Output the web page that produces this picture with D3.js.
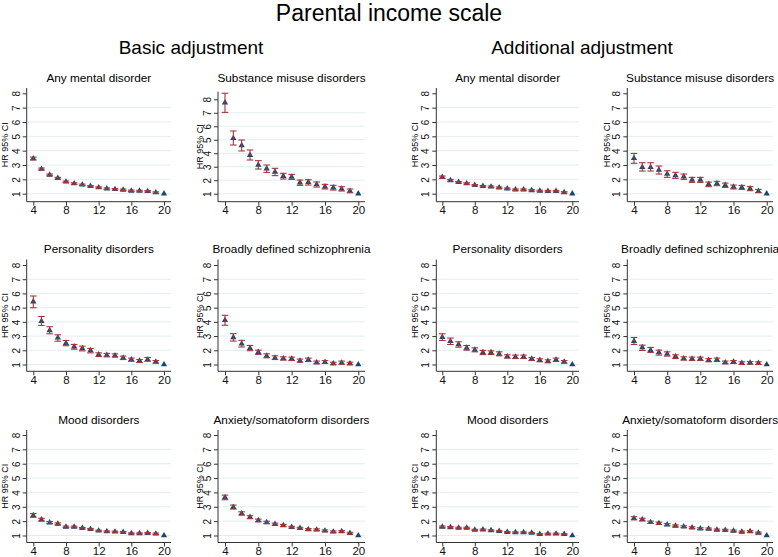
<!DOCTYPE html>
<html>
<head>
<meta charset="utf-8">
<script src="https://cdn.jsdelivr.net/npm/d3@7"></script>
<style>
  body { margin: 0; background: #fff; }
  svg { display: block; font-family: "Liberation Sans", Arial, Helvetica, sans-serif; }
</style>
</head>
<body>
<div id="chart"></div>
<script>
// income scale categories (x) and tick labels
var scaleSteps = [4,5,6,7,8,9,10,11,12,13,14,15,16,17,18,19,20];
var xTicks = [4,8,12,16,20];
var yTicks = [1,2,3,4,5,6,7,8];

// Basic adjustment
var anyBasicHR = [3.45,2.72,2.31,2.08,1.83,1.71,1.62,1.52,1.43,1.35,1.31,1.27,1.20,1.19,1.17,1.08,1];
var anyBasicLo = [3.35,2.65,2.25,2.02,1.78,1.66,1.57,1.47,1.38,1.30,1.26,1.22,1.15,1.14,1.12,1.03];
var anyBasicHi = [3.55,2.79,2.37,2.14,1.88,1.76,1.67,1.57,1.48,1.40,1.36,1.32,1.25,1.24,1.22,1.13];

var subBasicHR = [7.75,5.11,4.58,3.86,3.13,2.86,2.61,2.30,2.24,1.82,1.85,1.68,1.52,1.45,1.36,1.20,1];
var subBasicLo = [7.03,4.61,4.17,3.50,2.83,2.58,2.34,2.09,2.06,1.62,1.64,1.49,1.35,1.27,1.20,1.07];
var subBasicHi = [8.45,5.65,4.98,4.24,3.45,3.13,2.88,2.51,2.43,2.01,2.04,1.87,1.69,1.62,1.52,1.35];

var persBasicHR = [5.42,4.05,3.40,2.88,2.50,2.25,2.13,1.99,1.70,1.66,1.63,1.47,1.35,1.26,1.35,1.19,1];
var persBasicLo = [4.99,3.75,3.16,2.64,2.32,2.08,1.96,1.82,1.56,1.54,1.52,1.35,1.23,1.14,1.23,1.09];
var persBasicHi = [5.82,4.38,3.66,3.09,2.69,2.41,2.29,2.13,1.82,1.78,1.75,1.59,1.45,1.35,1.49,1.28];

var schizBasicHR = [4.11,2.91,2.46,2.15,1.87,1.61,1.47,1.42,1.40,1.26,1.33,1.14,1.16,1.07,1.12,1.07,1];
var schizBasicLo = [3.76,2.65,2.23,1.97,1.71,1.47,1.35,1.31,1.28,1.16,1.21,1.05,1.07,0.98,1.02,0.98];
var schizBasicHi = [4.46,3.17,2.70,2.34,2.01,1.75,1.61,1.54,1.52,1.38,1.45,1.24,1.28,1.16,1.24,1.16];

var moodBasicHR = [2.40,2.10,1.90,1.81,1.60,1.60,1.51,1.44,1.33,1.28,1.26,1.23,1.14,1.14,1.16,1.12,1];
var moodBasicLo = [2.27,2.01,1.83,1.74,1.55,1.55,1.46,1.39,1.29,1.24,1.22,1.18,1.10,1.10,1.11,1.07];
var moodBasicHi = [2.53,2.20,1.97,1.88,1.65,1.65,1.56,1.49,1.37,1.32,1.30,1.28,1.18,1.18,1.21,1.17];

var anxBasicHR = [3.65,2.98,2.53,2.28,2.05,1.91,1.79,1.70,1.58,1.51,1.42,1.40,1.33,1.26,1.28,1.16,1];
var anxBasicLo = [3.49,2.84,2.42,2.17,1.96,1.83,1.72,1.63,1.52,1.45,1.36,1.34,1.27,1.20,1.22,1.10];
var anxBasicHi = [3.81,3.12,2.65,2.38,2.14,1.99,1.86,1.77,1.64,1.57,1.48,1.46,1.39,1.32,1.34,1.22];

// Additional adjustment
var anyAddHR = [2.15,1.93,1.80,1.71,1.59,1.52,1.48,1.42,1.35,1.28,1.28,1.23,1.19,1.18,1.18,1.09,1];
var anyAddLo = [2.07,1.87,1.75,1.66,1.54,1.47,1.43,1.37,1.30,1.23,1.23,1.18,1.14,1.13,1.13,1.04];
var anyAddHi = [2.23,1.99,1.85,1.76,1.64,1.57,1.53,1.47,1.40,1.33,1.33,1.28,1.24,1.23,1.23,1.14];

var subAddHR = [3.47,2.84,2.84,2.65,2.37,2.28,2.19,1.96,1.96,1.66,1.71,1.60,1.47,1.44,1.35,1.18,1];
var subAddLo = [3.12,2.58,2.58,2.37,2.14,2.07,2.00,1.79,1.79,1.49,1.56,1.44,1.33,1.30,1.21,1.07];
var subAddHi = [3.81,3.16,3.16,2.93,2.60,2.49,2.37,2.14,2.14,1.81,1.86,1.74,1.60,1.58,1.49,1.30];

var persAddHR = [2.93,2.64,2.41,2.17,2.03,1.85,1.85,1.75,1.56,1.54,1.54,1.40,1.31,1.23,1.33,1.19,1];
var persAddLo = [2.69,2.41,2.22,2.01,1.89,1.70,1.70,1.61,1.45,1.42,1.42,1.28,1.19,1.12,1.21,1.09];
var persAddHi = [3.16,2.86,2.60,2.34,2.17,1.99,1.96,1.89,1.68,1.66,1.66,1.49,1.40,1.33,1.45,1.28];

var schizAddHR = [2.64,2.20,2.01,1.85,1.75,1.56,1.42,1.40,1.40,1.31,1.33,1.14,1.19,1.09,1.12,1.09,1];
var schizAddLo = [2.41,1.99,1.85,1.66,1.59,1.42,1.31,1.28,1.28,1.19,1.21,1.05,1.07,1.00,1.02,1.00];
var schizAddHi = [2.90,2.36,2.20,2.01,1.89,1.68,1.54,1.52,1.52,1.42,1.45,1.24,1.28,1.19,1.21,1.19];

var moodAddHR = [1.60,1.57,1.53,1.53,1.39,1.41,1.35,1.30,1.23,1.21,1.21,1.18,1.09,1.12,1.12,1.09,1];
var moodAddLo = [1.54,1.52,1.48,1.48,1.35,1.37,1.31,1.26,1.19,1.17,1.17,1.14,1.05,1.08,1.08,1.05];
var moodAddHi = [1.66,1.62,1.58,1.58,1.43,1.45,1.39,1.34,1.27,1.25,1.25,1.22,1.13,1.16,1.16,1.13];

var anxAddHR = [2.20,2.11,1.92,1.85,1.76,1.67,1.62,1.55,1.48,1.46,1.39,1.37,1.32,1.25,1.28,1.18,1];
var anxAddLo = [2.09,2.02,1.84,1.77,1.69,1.60,1.56,1.49,1.42,1.40,1.33,1.31,1.26,1.19,1.22,1.12];
var anxAddHi = [2.31,2.20,2.00,1.93,1.83,1.74,1.68,1.61,1.54,1.52,1.45,1.43,1.38,1.31,1.34,1.24];

var W = 778, H = 557;
var navy = "#1a476f", maroon = "#a3363d";

// panel layout: columns and rows (pixel positions)
var cols = [
  {axisX: 26.7,  x4: 33.3,  x20: 164,   right: 171, labX: 4.5},
  {axisX: 218,   x4: 225,   x20: 358.3, right: 365, labX: 199.5},
  {axisX: 436.3, x4: 442.3, x20: 572.3, right: 579, labX: 414.5},
  {axisX: 627.3, x4: 634,   x20: 766.7, right: 773, labX: 607}
];
var rows = [
  {y1: 193.7, y8: 93.3,  axisY: 201.7, top: 88,    titleY: 78},
  {y1: 364.5, y8: 265,   axisY: 371.3, top: 259.5, titleY: 249},
  {y1: 535.5, y8: 435,   axisY: 542.5, top: 430,   titleY: 420}
];

var panels = [
  {title: "Any mental disorder", hr: anyBasicHR, lo: anyBasicLo, hi: anyBasicHi, c: 0, r: 0},
  {title: "Substance misuse disorders", hr: subBasicHR, lo: subBasicLo, hi: subBasicHi, c: 1, r: 0, y8: 99.3, top: 91.7},
  {title: "Any mental disorder", hr: anyAddHR, lo: anyAddLo, hi: anyAddHi, c: 2, r: 0},
  {title: "Substance misuse disorders", hr: subAddHR, lo: subAddLo, hi: subAddHi, c: 3, r: 0},
  {title: "Personality disorders", hr: persBasicHR, lo: persBasicLo, hi: persBasicHi, c: 0, r: 1},
  {title: "Broadly defined schizophrenia", hr: schizBasicHR, lo: schizBasicLo, hi: schizBasicHi, c: 1, r: 1},
  {title: "Personality disorders", hr: persAddHR, lo: persAddLo, hi: persAddHi, c: 2, r: 1},
  {title: "Broadly defined schizophrenia", hr: schizAddHR, lo: schizAddLo, hi: schizAddHi, c: 3, r: 1},
  {title: "Mood disorders", hr: moodBasicHR, lo: moodBasicLo, hi: moodBasicHi, c: 0, r: 2},
  {title: "Anxiety/somatoform disorders", hr: anxBasicHR, lo: anxBasicLo, hi: anxBasicHi, c: 1, r: 2},
  {title: "Mood disorders", hr: moodAddHR, lo: moodAddLo, hi: moodAddHi, c: 2, r: 2},
  {title: "Anxiety/somatoform disorders", hr: anxAddHR, lo: anxAddLo, hi: anxAddHi, c: 3, r: 2}
];

var svg = d3.select("#chart").append("svg")
    .attr("width", W)
    .attr("height", H);

svg.append("rect").attr("width", W).attr("height", H).attr("fill", "#fff");

svg.append("text")
    .attr("x", W / 2).attr("y", 21)
    .attr("text-anchor", "middle")
    .style("font-size", "23px")
    .text("Parental income scale");

svg.append("text")
    .attr("x", 191).attr("y", 54)
    .attr("text-anchor", "middle")
    .style("font-size", "19px")
    .text("Basic adjustment");

svg.append("text")
    .attr("x", 582).attr("y", 54)
    .attr("text-anchor", "middle")
    .style("font-size", "19px")
    .text("Additional adjustment");

panels.forEach(function(p) {
    var col = cols[p.c], row = rows[p.r];
    var y8 = p.y8 || row.y8, top = p.top || row.top;

    var x = d3.scaleLinear().domain([4, 20]).range([col.x4, col.x20]);
    var y = d3.scaleLinear().domain([1, 8]).range([row.y1, y8]);

    var g = svg.append("g");

    // gridlines
    g.selectAll("line.grid")
        .data(yTicks.slice(0, 7))
        .enter().append("line")
        .attr("x1", col.axisX + 1).attr("x2", col.right)
        .attr("y1", function(d) { return y(d); })
        .attr("y2", function(d) { return y(d); })
        .attr("stroke", "#e3edf0")
        .attr("stroke-width", 1);

    // x axis
    var xa = g.append("g")
        .attr("transform", "translate(0," + row.axisY + ")")
        .call(d3.axisBottom(x).tickValues(xTicks).tickSize(4).tickSizeOuter(0).tickFormat(d3.format("d")));
    xa.select(".domain").attr("d", "M" + col.axisX + ",0H" + col.right).attr("stroke", "#333");
    xa.selectAll(".tick line").attr("stroke", "#333");
    xa.selectAll("text")
        .attr("y", 4.5)
        .style("font-size", "11.5px")
        .style("font-family", "Liberation Sans, Arial, sans-serif")
        .attr("fill", "#111");

    // y axis
    var ya = g.append("g")
        .attr("transform", "translate(" + col.axisX + ",0)")
        .call(d3.axisLeft(y).tickValues(yTicks).tickSize(4).tickSizeOuter(0).tickFormat(d3.format("d")));
    ya.select(".domain").attr("d", "M0," + top + "V" + row.axisY).attr("stroke", "#333");
    ya.selectAll(".tick line").attr("stroke", "#333");
    ya.selectAll("text")
        .attr("x", 0)
        .attr("dy", "0.35em")
        .attr("transform", "translate(-10.5,0) rotate(-90)")
        .attr("text-anchor", "middle")
        .style("font-size", "10px")
        .style("font-family", "Liberation Sans, Arial, sans-serif")
        .attr("fill", "#111");

    // y label
    g.append("text")
        .attr("transform", "translate(" + col.labX + "," + ((top + row.axisY) / 2) + ") rotate(-90)")
        .attr("dy", "0.35em")
        .attr("text-anchor", "middle")
        .style("font-size", "9px")
        .text("HR 95% CI");

    // title
    g.append("text")
        .attr("x", (col.axisX + col.right) / 2)
        .attr("y", row.titleY)
        .attr("dy", "0.35em")
        .attr("text-anchor", "middle")
        .style("font-size", "11.8px")
        .text(p.title);

    var pts = scaleSteps.map(function(s, i) {
        return {s: s, hr: p.hr[i], lo: p.lo[i], hi: p.hi[i]};
    });

    // point estimates
    g.selectAll("path.pt")
        .data(pts)
        .enter().append("path")
        .attr("transform", function(d) { return "translate(" + x(d.s) + "," + y(d.hr) + ")"; })
        .attr("d", d3.symbol().type(d3.symbolTriangle).size(17))
        .attr("fill", navy);

    // 95% CI caps
    var ci = pts.filter(function(d) { return d.lo !== undefined; });
    var cg = g.selectAll("g.ci").data(ci).enter().append("g")
        .attr("stroke", maroon)
        .attr("stroke-width", 1.1)
        .attr("fill", "none");
    cg.append("line")
        .attr("x1", function(d) { return x(d.s); }).attr("x2", function(d) { return x(d.s); })
        .attr("y1", function(d) { return y(d.lo); }).attr("y2", function(d) { return y(d.hi); });
    cg.append("line")
        .attr("x1", function(d) { return x(d.s) - 3.3; }).attr("x2", function(d) { return x(d.s) + 3.3; })
        .attr("y1", function(d) { return y(d.lo); }).attr("y2", function(d) { return y(d.lo); });
    cg.append("line")
        .attr("x1", function(d) { return x(d.s) - 3.3; }).attr("x2", function(d) { return x(d.s) + 3.3; })
        .attr("y1", function(d) { return y(d.hi); }).attr("y2", function(d) { return y(d.hi); });
});
</script>
</body>
</html>
